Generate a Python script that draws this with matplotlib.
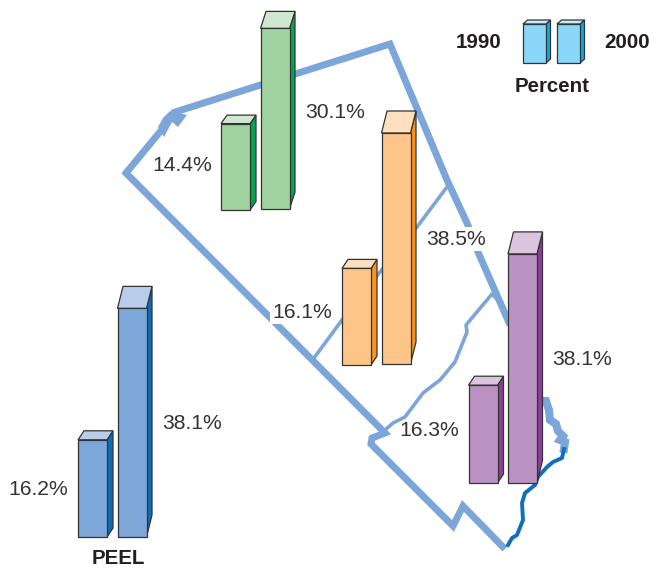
import matplotlib
matplotlib.use("Agg")
import matplotlib.pyplot as plt
from matplotlib.patches import Polygon, Rectangle

plt.rcParams['font.family'] = ['Liberation Sans', 'DejaVu Sans']

# percent values, 1990 and 2000
peel_values = [16.2, 38.1]
caledon_values = [14.4, 30.1]
brampton_values = [16.1, 38.5]
mississauga_values = [16.3, 38.1]

# map lines (picture pixels)
border_x = [164, 126, 385, 372, 371, 453, 463, 505]
border_y = [127, 173, 433, 438, 444, 526, 506, 549]
border2_x = [172, 390, 447, 467, 478, 510]
border2_y = [113, 44, 180, 223, 252, 325]
notch_x = [170, 187, 178, 172, 164, 158, 163]
notch_y = [111, 115, 127, 122, 137, 127, 118]
inner1_x = [314, 342, 380, 417, 447]
inner1_y = [358, 320, 272, 227, 187]
inner2_x = [385, 393, 405, 423, 440, 455, 467, 466, 492, 500]
inner2_y = [430, 423, 417, 393, 380, 362, 332, 325, 294, 302]
river_top_x = [541, 546, 549, 550, 556, 558, 563, 560, 565, 564]
river_top_y = [401, 401, 410, 420, 424, 431, 436, 440, 442, 449]
river_x = [564, 562, 553, 547, 538, 535, 525, 522, 523, 517, 512, 508]
river_y = [449, 458, 462, 467, 477, 485, 493, 503, 520, 535, 538, 545]

MAP_BLUE = "#7ca6da"
RIVER_BLUE = "#0f6fbd"
EDGE = "#333333"
PX_PER_PCT = 6.0

fig = plt.figure(figsize=(6.52, 5.69), dpi=100)
ax = fig.add_axes([0, 0, 1, 1])
ax.set_xlim(0, 652)
ax.set_ylim(569, 0)
ax.axis("off")


def bar3d(x, base, height, width, dx, dy, front, side, top):
    y = base - height
    ax.add_patch(Polygon([(x + width, y), (x + width + dx, y - dy), (x + width + dx, base - dy), (x + width, base)],
                         facecolor=side, edgecolor=EDGE, lw=0.9, zorder=5))
    ax.add_patch(Polygon([(x, y), (x + dx, y - dy), (x + width + dx, y - dy), (x + width, y)],
                         facecolor=top, edgecolor=EDGE, lw=0.9, zorder=5))
    ax.add_patch(Rectangle((x, y), width, height, facecolor=front, edgecolor=EDGE, lw=0.9, zorder=6))


def pair(values, x1, x2, base1, base2, dy1, dy2, colors):
    bar3d(x1, base1, values[0] * PX_PER_PCT, 29, 6, dy1, *colors)
    bar3d(x2, base2, values[1] * PX_PER_PCT, 29, 5.5, dy2, *colors)


# map
ax.plot(border_x, border_y, color=MAP_BLUE, lw=5, solid_joinstyle="miter", solid_capstyle="butt", zorder=2)
ax.plot(border2_x, border2_y, color=MAP_BLUE, lw=5, solid_joinstyle="miter", solid_capstyle="butt", zorder=2)
ax.add_patch(Polygon(list(zip(notch_x, notch_y)), facecolor=MAP_BLUE, edgecolor="none", zorder=2))
ax.plot(inner1_x, inner1_y, color=MAP_BLUE, lw=2.6, zorder=1)
ax.plot(inner2_x, inner2_y, color=MAP_BLUE, lw=2.6, zorder=1)
ax.plot(river_top_x, river_top_y, color=MAP_BLUE, lw=5.8, solid_joinstyle="miter", zorder=2)
ax.plot(river_x, river_y, color=RIVER_BLUE, lw=2.8, zorder=2)

# bars
pair(peel_values, 78, 117.5, 537, 537, 9, 22, ("#7da7d9", "#0b6cb8", "#b9cdeb"))
pair(caledon_values, 221, 260.5, 210, 209, 8.5, 17, ("#a0d3a0", "#00a651", "#cfe8cf"))
pair(brampton_values, 342, 381.5, 365, 364, 9, 22, ("#fdc688", "#f7941d", "#fedfbe"))
pair(mississauga_values, 468.5, 508, 483, 482.5, 9, 22, ("#b992c2", "#8b3f96", "#dbc4e0"))

# legend bars
LEGEND_COLORS = ("#8ad6f8", "#00aeef", "#c5eafb")
bar3d(523, 63, 39, 23, 4.5, 4, *LEGEND_COLORS)
bar3d(557, 63, 39, 23, 4.5, 4, *LEGEND_COLORS)

# value labels
white = dict(facecolor="white", edgecolor="none", pad=1.5)
for val, x, y, box in [(caledon_values[0], 152, 165, None), (caledon_values[1], 305, 112, None),
                       (brampton_values[0], 272, 312, white), (brampton_values[1], 426, 239, white),
                       (mississauga_values[0], 399, 430, None), (mississauga_values[1], 552, 359, None),
                       (peel_values[0], 8, 489, None), (peel_values[1], 162, 423, None)]:
    ax.text(x, y, f"{val}%", fontsize=15.2, color="#333333", ha="left", va="center", bbox=box, zorder=4)

ax.text(118, 559, "PEEL", fontsize=14.8, fontweight="bold", color="#231f20", ha="center", va="center")
ax.text(456, 42, "1990", fontsize=14.8, fontweight="bold", color="#231f20", ha="left", va="center")
ax.text(604, 42, "2000", fontsize=14.8, fontweight="bold", color="#231f20", ha="left", va="center")
ax.text(552, 86, "Percent", fontsize=14.8, fontweight="bold", color="#231f20", ha="center", va="center")

fig.savefig("out.png", dpi=100)
